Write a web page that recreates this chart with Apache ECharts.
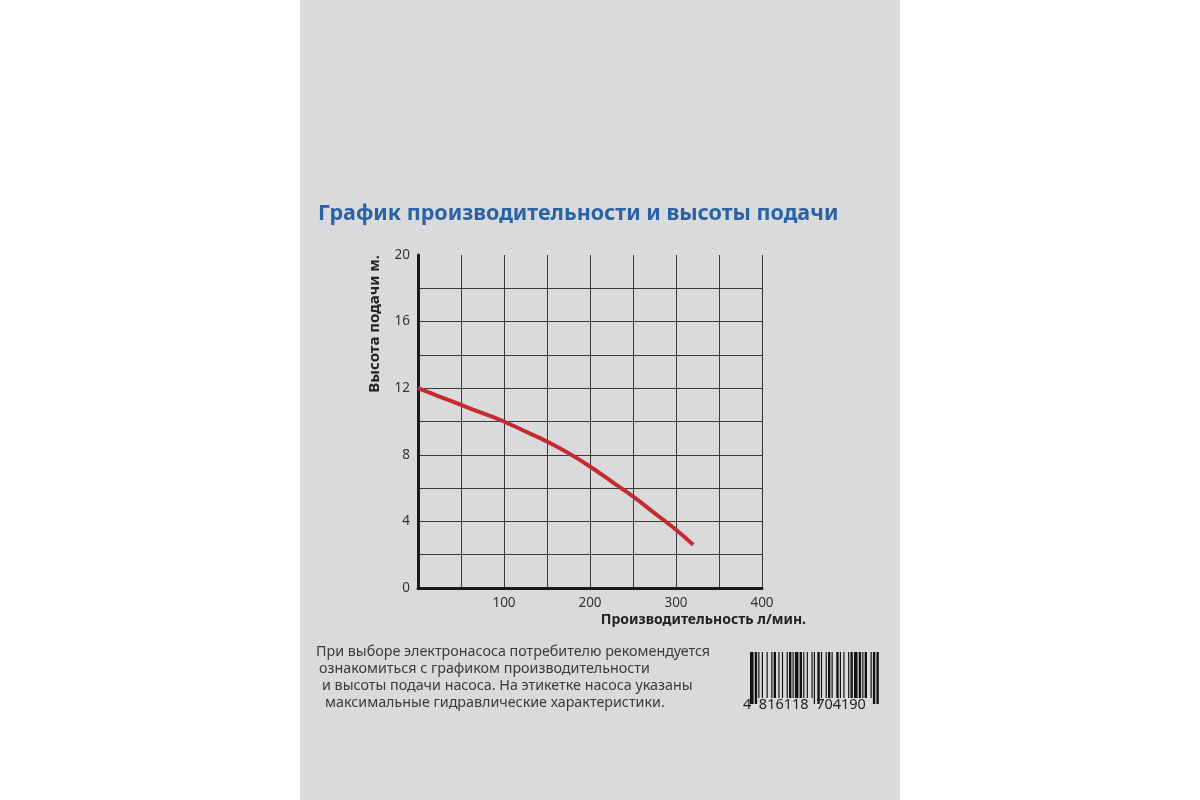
<!DOCTYPE html>
<html><head><meta charset="utf-8">
<script src="https://cdn.jsdelivr.net/npm/echarts@6/dist/echarts.min.js"></script>
<style>html,body{margin:0;padding:0;background:#fff}#c{width:1200px;height:800px}</style>
</head><body><div id="c"></div>
<script>
const flow = [0, 25, 50, 75, 100, 125, 150, 175, 200, 225, 250, 275, 300, 320];
const head = [12, 11.5, 11, 10.5, 10, 9.4, 8.8, 8.1, 7.3, 6.4, 5.5, 4.5, 3.5, 2.6];
const titleText = 'График производительности и высоты подачи';
const xName = 'Производительность л/мин.';
const yName = 'Высота подачи м.';
const noteLines = [
  'При выборе электронасоса потребителю рекомендуется',
  'ознакомиться с графиком производительности',
  'и высоты подачи насоса. На этикетке насоса указаны',
  'максимальные гидравлические характеристики.'
];
const barcodeDigits = '4 816118 704190';
const barPattern = '3121121313112212131121113121121311122113112113211213112131211123112121';

const chart = echarts.init(document.getElementById('c'));
const font = '"Noto Sans", sans-serif';
const graphics = [
  {type:'rect', shape:{x:300,y:0,width:600,height:800}, style:{fill:'#d8dadc'}, z:-10},
  {type:'text', left:318, top:203, style:{text:titleText, fill:'#2a62a6', font:'bold 21.5px '+font}},
];
noteLines.forEach((t,i)=>{
  graphics.push({type:'text', left:316+i*3, top:645+i*17, style:{text:t, fill:'#3a3a3a', font:'14.3px '+font}});
});
// barcode
let bx = 750;
const bars = [];
const totalW = barPattern.split('').reduce((a,b)=>a+(+b),0);
const k = 130/totalW;
for (let i=0;i<barPattern.length;i++){
  const w = +barPattern[i]*k;
  if (i%2===0) bars.push({type:'rect', shape:{x:bx,y:652,width:w,height:(i<4||i>barPattern.length-5||Math.abs(i-barPattern.length/2)<2)?52:46}, style:{fill:'#111'}});
  bx += w;
}
graphics.push(...bars);
graphics.push({type:'text', left:743, top:697, style:{text:barcodeDigits.replace(/ /g,'  '), fill:'#222', font:'14.5px '+font}});

chart.setOption({
  backgroundColor:'#ffffff',
  animation:false,
  graphic: graphics,
  grid:{left:418, top:255, width:344, height:333},
  xAxis:{
    type:'value', min:0, max:400, interval:100,
    name:xName, nameLocation:'end', nameGap:0,
    nameTextStyle:{fontFamily:font, fontWeight:'bold', fontSize:14, color:'#222', align:'right', verticalAlign:'top', padding:[25,-44,0,0]},
    axisLine:{show:true, lineStyle:{color:'#1a1a1a', width:3}},
    axisTick:{show:false},
    axisLabel:{showMinLabel:false, fontFamily:font, fontSize:13.5, color:'#333', margin:8},
    splitLine:{show:true, showMinLine:false, lineStyle:{color:'#3a3a3a', width:1}},
    minorTick:{show:false, splitNumber:2},
    minorSplitLine:{show:true, lineStyle:{color:'#3a3a3a', width:1}}
  },
  yAxis:{
    type:'value', min:0, max:20, interval:4,
    name:yName, nameLocation:'end', nameRotate:90, nameGap:0,
    nameTextStyle:{fontFamily:font, fontWeight:'bold', fontSize:15, color:'#222', align:'right', verticalAlign:'bottom', padding:[0,0,36,0]},
    axisLine:{show:true, lineStyle:{color:'#1a1a1a', width:3}},
    axisTick:{show:false},
    axisLabel:{fontFamily:font, fontSize:13.5, color:'#333', margin:8},
    splitLine:{show:true, showMinLine:false, showMaxLine:false, lineStyle:{color:'#3a3a3a', width:1}},
    minorTick:{show:false, splitNumber:2},
    minorSplitLine:{show:true, lineStyle:{color:'#3a3a3a', width:1}}
  },
  series:[{
    type:'line', data:flow.map((x,i)=>[x,head[i]]), smooth:0.3, symbol:'none',
    lineStyle:{color:'#c62a2f', width:4}
  }]
});
</script></body></html>
